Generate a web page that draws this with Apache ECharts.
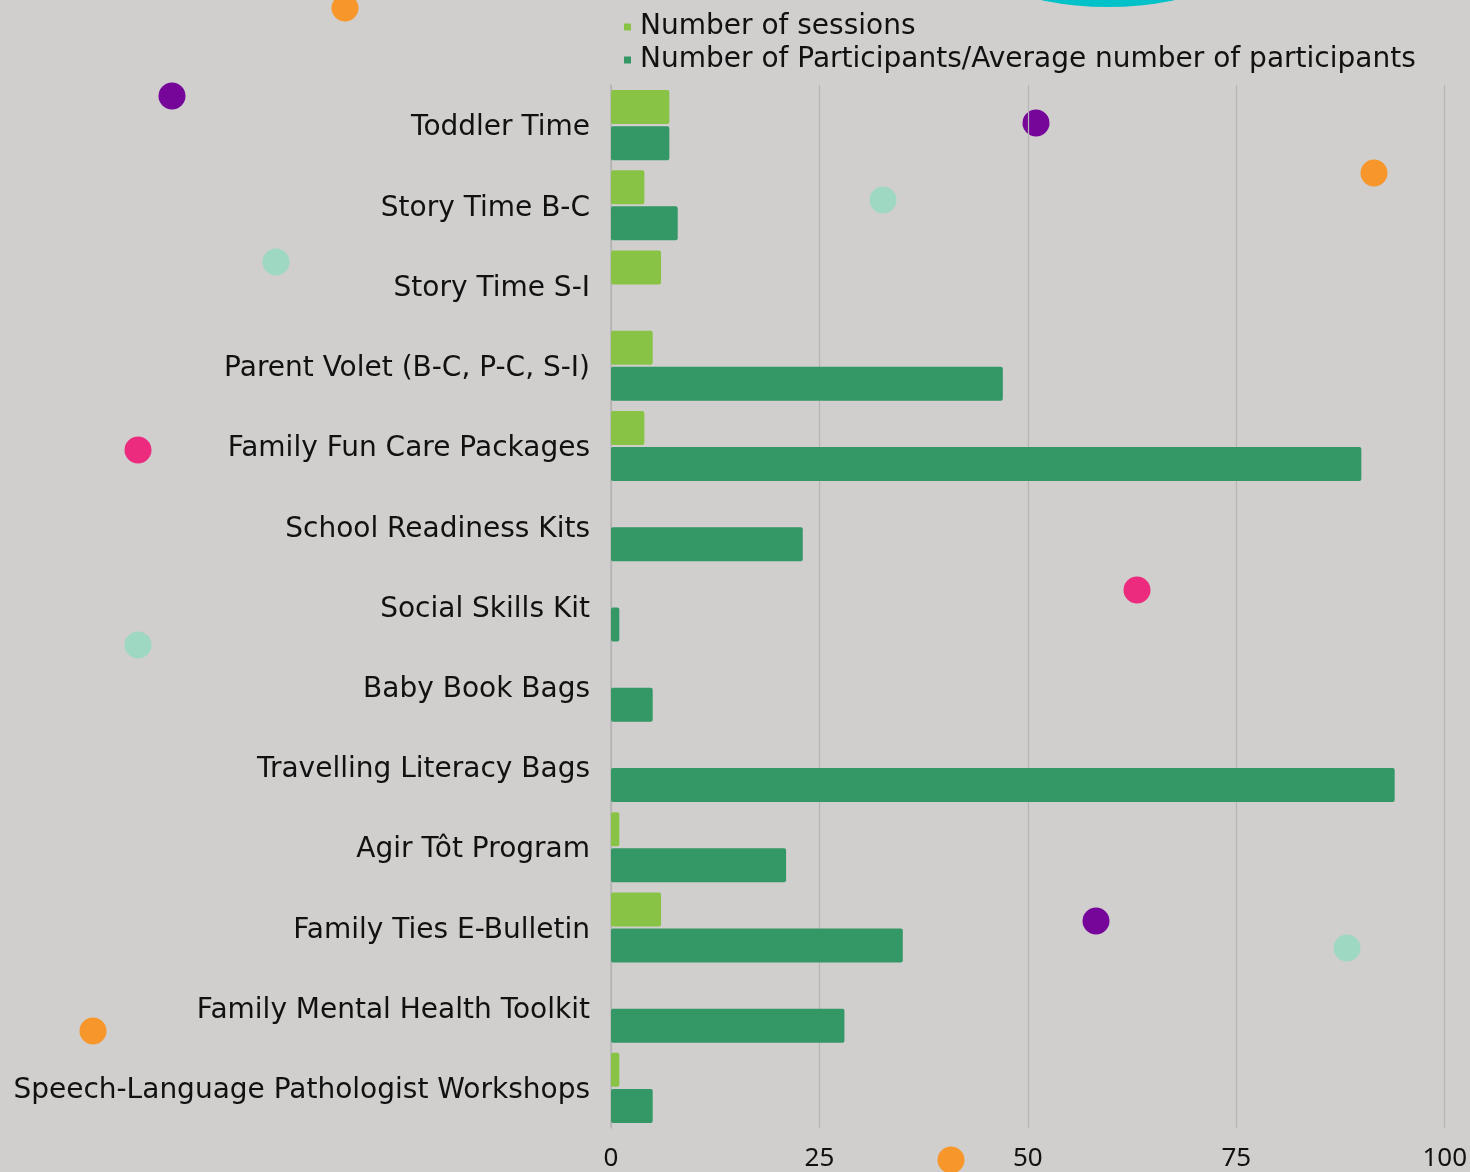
<!DOCTYPE html>
<html>
<head>
<meta charset="utf-8">
<script src="https://cdn.jsdelivr.net/npm/echarts@6/dist/echarts.min.js"></script>
<style>
  html, body { margin: 0; padding: 0; background: #d0cfcd; }
  #chart { width: 1470px; height: 1172px; }
</style>
</head>
<body>
<div id="chart"></div>
<script>
// data
var categories = [
  'Toddler Time',
  'Story Time B-C',
  'Story Time S-I',
  'Parent Volet (B-C, P-C, S-I)',
  'Family Fun Care Packages',
  'School Readiness Kits',
  'Social Skills Kit',
  'Baby Book Bags',
  'Travelling Literacy Bags',
  'Agir Tôt Program',
  'Family Ties E-Bulletin',
  'Family Mental Health Toolkit',
  'Speech-Language Pathologist Workshops'
];
var sessions = [7, 4, 6, 5, 4, null, null, null, null, 1, 6, null, 1];
var participants = [7, 8, null, 47, 90, 23, 1, 5, 94, 21, 35, 28, 5];
var xTicks = [0, 25, 50, 75, 100];

var fontFamily = '"DejaVu Sans", "Noto Sans", sans-serif';
var numFont = '"Noto Sans", sans-serif';

// decorative dots scattered over the background
var dots = [
  [345, 8, '#f7962b'], [172, 96, '#76069a'], [1036, 123, '#76069a'],
  [1374, 173, '#f7962b'], [883, 200, '#9ed8c2'], [276, 262, '#9ed8c2'],
  [138, 450, '#ec2b7e'], [1137, 590, '#ec2b7e'], [138, 645, '#9ed8c2'],
  [1096, 921, '#76069a'], [1347, 948, '#9ed8c2'], [93, 1031, '#f7962b'],
  [951, 1160, '#f7962b']
];
var graphics = [{
  type: 'circle', z: -1,
  shape: { cx: 1108, cy: -322, r: 329 },
  style: { fill: '#00c2c8' }
}];
dots.forEach(function (d) {
  graphics.push({
    type: 'circle', z: -1,
    shape: { cx: d[0], cy: d[1], r: 13.5 },
    style: { fill: d[2] }
  });
});

var myChart = echarts.init(document.getElementById('chart'));

var option = {
  backgroundColor: '#d0cfcd',
  animation: false,
  textStyle: { fontFamily: fontFamily },
  graphic: graphics,
  legend: {
    orient: 'vertical',
    left: 619,
    top: 8,
    itemWidth: 7,
    itemHeight: 7,
    itemGap: 5,
    icon: 'rect',
    textStyle: { fontSize: 28, color: '#111', fontFamily: fontFamily, padding: [0, 0, 0, 4] },
    data: ['Number of sessions', 'Number of Participants/Average number of participants']
  },
  grid: { left: 611, right: 23, top: 85, bottom: 42 },
  xAxis: {
    type: 'value',
    min: 0,
    max: 100,
    interval: 25,
    axisLine: { show: false },
    axisTick: { show: false },
    axisLabel: {
      fontSize: 26, color: '#111', margin: 18, fontFamily: numFont,
      formatter: function (v) { return xTicks.indexOf(v) >= 0 ? String(v) : ''; }
    },
    splitLine: { lineStyle: { color: '#b5b5b5', width: 1.2 } }
  },
  yAxis: {
    type: 'category',
    inverse: true,
    data: categories,
    axisLine: { show: true, lineStyle: { color: '#b5b5b5', width: 1.5 } },
    axisTick: { show: false },
    axisLabel: {
      margin: 21,
      formatter: function (v) { return '{a|' + v + '}'; },
      rich: { a: { fontSize: 28, color: '#111', fontFamily: fontFamily, padding: [6, 0, 0, 0] } }
    }
  },
  series: [
    {
      name: 'Number of sessions',
      type: 'bar',
      data: sessions,
      barWidth: 34,
      barGap: '6%',
      itemStyle: { color: '#88c346', borderRadius: 2 }
    },
    {
      name: 'Number of Participants/Average number of participants',
      type: 'bar',
      data: participants,
      barWidth: 34,
      itemStyle: { color: '#339766', borderRadius: 2 }
    }
  ]
};

myChart.setOption(option);
</script>
</body>
</html>
